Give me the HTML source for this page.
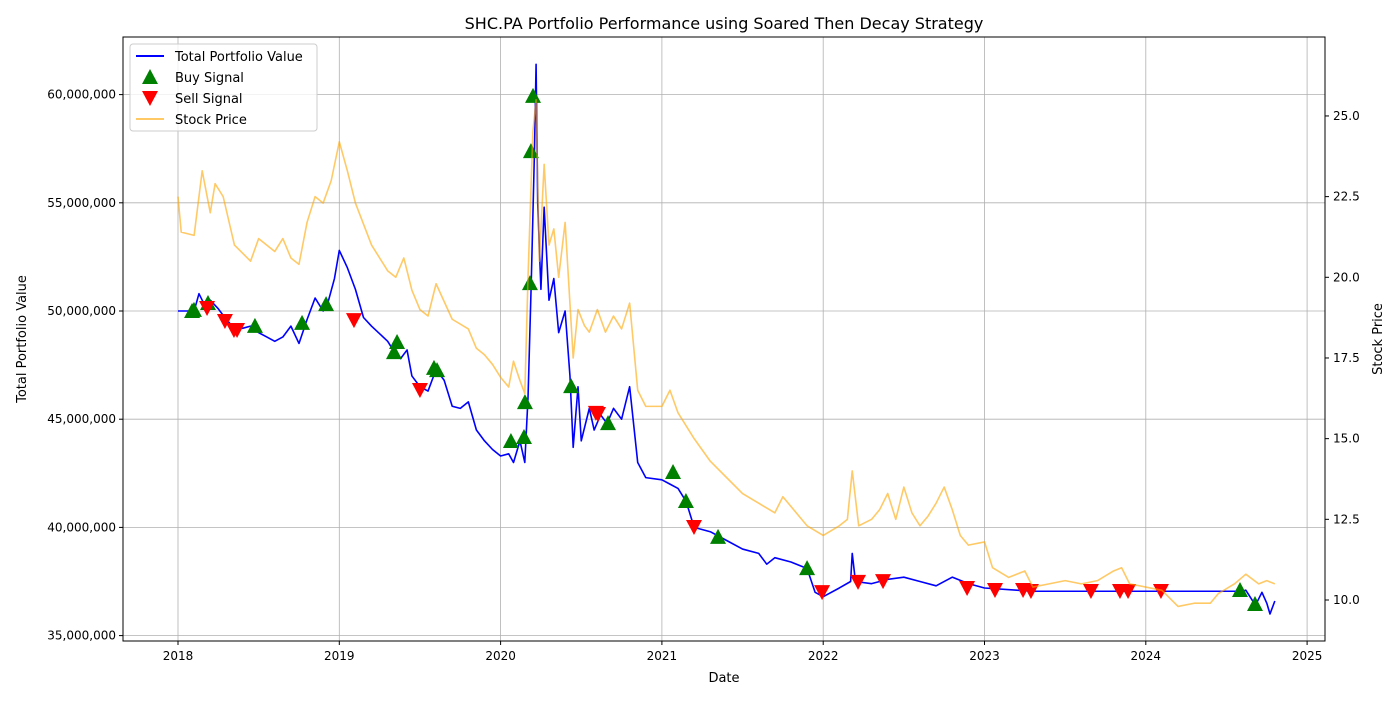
<!DOCTYPE html>
<html><head><meta charset="utf-8"><style>
body{margin:0;background:#fff;font-family:"Liberation Sans","DejaVu Sans",sans-serif}
</style></head><body>
<svg id="chart" width="1400" height="700" xmlns="http://www.w3.org/2000/svg" font-family="DejaVu Sans, Liberation Sans, sans-serif">
<text x="724" y="29" font-size="16" text-anchor="middle">SHC.PA Portfolio Performance using Soared Then Decay Strategy</text>
<g id="grid"></g>
<g id="series"></g>
<rect x="123" y="37" width="1202" height="604" fill="none" stroke="#000" stroke-width="1"/>
<g id="axes" font-size="12"></g>
<text x="724" y="682" font-size="13" text-anchor="middle">Date</text>
<text transform="translate(26,339) rotate(-90)" font-size="13" text-anchor="middle">Total Portfolio Value</text>
<text transform="translate(1382,339) rotate(-90)" font-size="13" text-anchor="middle">Stock Price</text>
<g font-size="13">
<rect x="130" y="44" width="187" height="87" rx="3" fill="#fff" fill-opacity="0.8" stroke="#ccc"/>
<line x1="136" y1="56" x2="164" y2="56" stroke="blue" stroke-width="2"/>
<text x="175" y="61">Total Portfolio Value</text>
<polygon points="150,69 158,84 142,84" fill="green"/>
<text x="175" y="82">Buy Signal</text>
<polygon points="142,91 158,91 150,106" fill="red"/>
<text x="175" y="103">Sell Signal</text>
<line x1="136" y1="119" x2="164" y2="119" stroke="#ffa500" stroke-opacity="0.6" stroke-width="2"/>
<text x="175" y="124">Stock Price</text>
</g>
</svg>
<script>
const pfDates=[2018.0,2018.1,2018.13,2018.17,2018.2,2018.25,2018.3,2018.35,2018.4,2018.45,2018.5,2018.55,2018.6,2018.65,2018.7,2018.75,2018.8,2018.85,2018.9,2018.93,2018.97,2019.0,2019.05,2019.1,2019.15,2019.2,2019.3,2019.35,2019.38,2019.42,2019.45,2019.5,2019.55,2019.6,2019.65,2019.7,2019.75,2019.8,2019.85,2019.9,2019.95,2020.0,2020.05,2020.08,2020.12,2020.15,2020.17,2020.19,2020.21,2020.22,2020.23,2020.25,2020.27,2020.3,2020.33,2020.36,2020.4,2020.43,2020.45,2020.48,2020.5,2020.55,2020.58,2020.62,2020.66,2020.7,2020.75,2020.8,2020.85,2020.9,2021.0,2021.05,2021.1,2021.15,2021.2,2021.3,2021.4,2021.5,2021.6,2021.65,2021.7,2021.8,2021.9,2021.95,2022.0,2022.1,2022.17,2022.18,2022.2,2022.3,2022.4,2022.5,2022.6,2022.7,2022.8,2022.9,2023.0,2023.2,2023.3,2024.6,2024.62,2024.68,2024.72,2024.75,2024.77,2024.8];
const pfValues=[50.0,50.0,50.8,50.2,50.5,50.1,49.6,49.2,49.2,49.3,49.0,48.8,48.6,48.8,49.3,48.5,49.6,50.6,50.0,50.4,51.5,52.8,52.0,51.0,49.7,49.3,48.6,48.0,47.8,48.2,47.0,46.5,46.3,47.3,46.8,45.6,45.5,45.8,44.5,44.0,43.6,43.3,43.4,43.0,44.0,43.0,46.0,51.3,57.4,61.4,55.0,51.0,54.8,50.5,51.5,49.0,50.0,47.0,43.7,46.5,44.0,45.5,44.5,45.2,44.8,45.5,45.0,46.5,43.0,42.3,42.2,42.0,41.8,41.2,40.0,39.8,39.4,39.0,38.8,38.3,38.6,38.4,38.1,37.0,36.8,37.2,37.5,38.8,37.5,37.4,37.6,37.7,37.5,37.3,37.7,37.4,37.2,37.1,37.05,37.05,37.1,36.4,37.0,36.5,36.0,36.6];
const spDates=[2018.0,2018.02,2018.1,2018.15,2018.2,2018.23,2018.28,2018.35,2018.45,2018.5,2018.6,2018.65,2018.7,2018.75,2018.8,2018.85,2018.9,2018.95,2019.0,2019.05,2019.1,2019.2,2019.3,2019.35,2019.4,2019.45,2019.5,2019.55,2019.6,2019.7,2019.8,2019.85,2019.9,2019.95,2020.0,2020.05,2020.08,2020.12,2020.15,2020.17,2020.2,2020.22,2020.24,2020.27,2020.3,2020.33,2020.36,2020.4,2020.45,2020.48,2020.52,2020.55,2020.6,2020.65,2020.7,2020.75,2020.8,2020.85,2020.9,2021.0,2021.05,2021.1,2021.2,2021.3,2021.4,2021.5,2021.6,2021.7,2021.75,2021.85,2021.9,2022.0,2022.1,2022.15,2022.18,2022.22,2022.3,2022.35,2022.4,2022.45,2022.5,2022.55,2022.6,2022.65,2022.7,2022.75,2022.8,2022.85,2022.9,2023.0,2023.05,2023.15,2023.25,2023.3,2023.4,2023.5,2023.6,2023.7,2023.8,2023.85,2023.9,2024.0,2024.1,2024.2,2024.3,2024.4,2024.45,2024.55,2024.62,2024.7,2024.75,2024.8];
const spValues=[22.5,21.4,21.3,23.3,22.0,22.9,22.5,21.0,20.5,21.2,20.8,21.2,20.6,20.4,21.7,22.5,22.3,23.0,24.2,23.3,22.3,21.0,20.2,20.0,20.6,19.6,19.0,18.8,19.8,18.7,18.4,17.8,17.6,17.3,16.9,16.6,17.4,16.8,16.4,20.0,24.5,25.5,20.5,23.5,21.0,21.5,20.0,21.7,17.5,19.0,18.5,18.3,19.0,18.3,18.8,18.4,19.2,16.5,16.0,16.0,16.5,15.8,15.0,14.3,13.8,13.3,13.0,12.7,13.2,12.6,12.3,12.0,12.3,12.5,14.0,12.3,12.5,12.8,13.3,12.5,13.5,12.7,12.3,12.6,13.0,13.5,12.8,12.0,11.7,11.8,11.0,10.7,10.9,10.4,10.5,10.6,10.5,10.6,10.9,11.0,10.5,10.4,10.3,9.8,9.9,9.9,10.2,10.5,10.8,10.5,10.6,10.5];
const buyDates=[2018.087,2018.099,2018.186,2018.477,2018.769,2018.918,2019.339,2019.358,2019.587,2019.606,2020.064,2020.145,2020.151,2020.182,2020.188,2020.201,2020.437,2020.666,2021.069,2021.149,2021.348,2021.900,2024.584,2024.677];
const buyValues=[50.0,50.05,50.37,49.31,49.45,50.32,48.1,48.57,47.37,47.27,43.99,44.18,45.79,51.29,57.39,59.94,46.53,44.82,42.56,41.22,39.56,38.12,37.11,36.46];
const sellDates=[2018.180,2018.291,2018.347,2018.366,2019.091,2019.500,2020.591,2020.604,2021.199,2021.993,2022.216,2022.371,2022.892,2023.065,2023.239,2023.288,2023.660,2023.840,2023.890,2024.094];
const sellValues=[50.14,49.54,49.12,49.12,49.58,46.35,45.29,45.24,40.02,37.01,37.48,37.52,37.2,37.11,37.11,37.06,37.06,37.06,37.06,37.06];
const xTicks=[2018,2019,2020,2021,2022,2023,2024,2025];
const yTicksLeft=[35,40,45,50,55,60];
const yTicksRight=[10,12.5,15,17.5,20,22.5,25];

const NS="http://www.w3.org/2000/svg";
const X=d=>178+(d-2018)*161.3;
const YL=v=>311-(v-50)*21.64;
const YR=p=>600-(p-10)*32.27;
function mk(tag,attrs,parent){const e=document.createElementNS(NS,tag);for(const k in attrs)e.setAttribute(k,attrs[k]);parent.appendChild(e);return e;}
const grid=document.getElementById('grid'),axes=document.getElementById('axes'),ser=document.getElementById('series');
xTicks.forEach(t=>{const x=X(t);
 const g=mk('line',{x1:x,x2:x,y1:37,y2:641,stroke:'#b0b0b0','stroke-width':0.8},grid);
 
 
 mk('line',{x1:x,x2:x,y1:641,y2:645,stroke:'#000'},axes);
 const tx=mk('text',{x:x,y:660,'text-anchor':'middle'},axes);tx.textContent=t;
 
 
});
yTicksLeft.forEach(t=>{const y=YL(t);
 const g=mk('line',{x1:123,x2:1325,y1:y,y2:y,stroke:'#b0b0b0','stroke-width':0.8},grid);
 
 
 mk('line',{x1:119,x2:123,y1:y,y2:y,stroke:'#000'},axes);
 const tx=mk('text',{x:116,y:y+4,'text-anchor':'end'},axes);tx.textContent=(t*1e6).toLocaleString('en-US');
 
 
});
yTicksRight.forEach(t=>{const y=YR(t);
 mk('line',{x1:1325,x2:1329,y1:y,y2:y,stroke:'#000'},axes);
 const tx=mk('text',{x:1333,y:y+4},axes);tx.textContent=t.toFixed(1);
 
 
});
const pl=mk('polyline',{points:pfDates.map((d,i)=>X(d)+','+YL(pfValues[i])).join(' '),fill:'none',stroke:'blue','stroke-width':1.6,'stroke-linejoin':'round'},ser);


buyDates.forEach((d,i)=>{const x=X(d),y=YL(buyValues[i]);
 const p=mk('polygon',{points:`${x},${y-8} ${x+8},${y+7} ${x-8},${y+7}`,fill:'green'},ser);
 
 
});
sellDates.forEach((d,i)=>{const x=X(d),y=YL(sellValues[i]);
 const p=mk('polygon',{points:`${x-8},${y-7} ${x+8},${y-7} ${x},${y+8}`,fill:'red'},ser);
 
 
});
const sl=mk('polyline',{points:spDates.map((d,i)=>X(d)+','+YR(spValues[i])).join(' '),fill:'none',stroke:'#ffa500','stroke-opacity':0.6,'stroke-width':1.6,'stroke-linejoin':'round'},ser);


</script>
</body></html>
